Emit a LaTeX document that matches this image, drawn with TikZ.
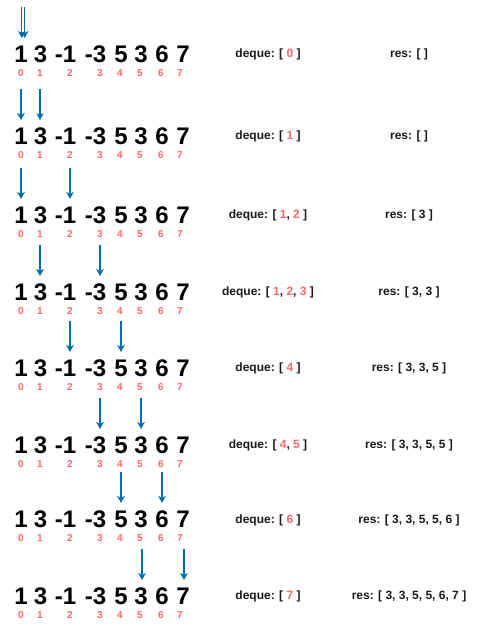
\documentclass[tikz,border=0pt]{standalone}
\usepackage{fontspec}
\setmainfont{Liberation Sans}
\usetikzlibrary{arrows.meta}
\definecolor{arrowblue}{HTML}{006EAF}
\definecolor{idxred}{HTML}{FF6666}
\definecolor{txtgray}{HTML}{1A1A1A}
\newcommand{\rn}[1]{\textcolor{idxred}{#1}}
\begin{document}
\begin{tikzpicture}[x=1pt,y=-1pt,
 num/.style={font=\fontsize{24}{24}\selectfont\bfseries, inner sep=0pt, anchor=center},
 idx/.style={font=\fontsize{10}{10}\selectfont\bfseries, text=idxred, inner sep=0pt},
 info/.style={font=\fontsize{12}{14}\selectfont\bfseries, text=txtgray, inner sep=0pt},
 ptr/.style={draw=arrowblue, line width=1.3pt, -{Stealth[length=7pt,width=7.5pt,inset=2pt]}}]
\useasboundingbox (0,0) rectangle (480,639);
\fill[white] (0,0) rectangle (480,639);
\foreach \r/\y in {1/54,2/136,3/215,4/292,5/368,6/445,7/519,8/596} {
  \foreach \i/\t/\x/\ix in {0/1/21/21, 1/3/40.5/40, 2/-1/65.5/70, 3/-3/95.5/100, 4/5/121/120, 5/3/141/140, 6/6/162/161, 7/7/183/180} {
    \node[num] (n\r-\i) at (\x,\y) {\t};
    \node[idx] (i\r-\i) at (\ix,\y+19.5) {\i};
  }
}
\foreach \r/\y/\xa/\xb in {1/54/21.7/24.7, 2/136/21/40, 3/215/21/70, 4/292/40/100, 5/368/70/121, 6/445/100/141, 7/519/121/162, 8/596/142/184} {
  \coordinate (s\r a) at (\xa,\y-47);
  \coordinate (e\r a) at (\xa,\y-16);
  \coordinate (s\r b) at (\xb,\y-47);
  \coordinate (e\r b) at (\xb,\y-16);
  \draw[ptr] (s\r a) -- (e\r a);
  \draw[ptr] (s\r b) -- (e\r b);
}
\node[info] (d1) at (268,54)  {deque: [ \rn{0} ]};
\node[info] (d2) at (268,136) {deque: [ \rn{1} ]};
\node[info] (d3) at (268,215) {deque: [ \rn{1}, \rn{2} ]};
\node[info] (d4) at (268,292) {deque: [ \rn{1}, \rn{2}, \rn{3} ]};
\node[info] (d5) at (268,368) {deque: [ \rn{4} ]};
\node[info] (d6) at (268,445) {deque: [ \rn{4}, \rn{5} ]};
\node[info] (d7) at (268,520) {deque: [ \rn{6} ]};
\node[info] (d8) at (268,596) {deque: [ \rn{7} ]};
\node[info] (r1) at (409,54)  {res: [ ]};
\node[info] (r2) at (409,136) {res: [ ]};
\node[info] (r3) at (409,215) {res: [ 3 ]};
\node[info] (r4) at (409,292) {res: [ 3, 3 ]};
\node[info] (r5) at (409,368) {res: [ 3, 3, 5 ]};
\node[info] (r6) at (409,445) {res: [ 3, 3, 5, 5 ]};
\node[info] (r7) at (409,520) {res: [ 3, 3, 5, 5, 6 ]};
\node[info] (r8) at (409,596) {res: [ 3, 3, 5, 5, 6, 7 ]};
\end{tikzpicture}
\end{document}
